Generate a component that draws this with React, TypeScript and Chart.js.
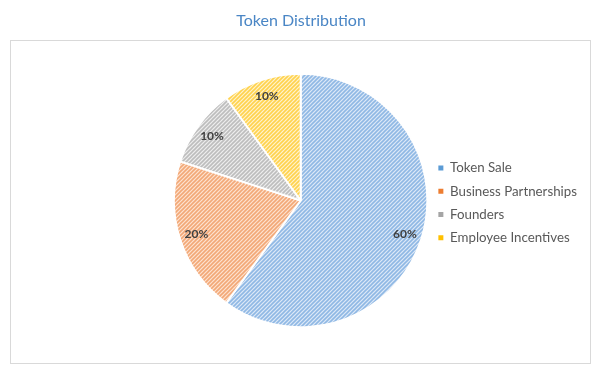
import React, { useEffect, useRef } from "react";
import { Chart, registerables } from "chart.js";

Chart.register(...registerables);

const labels = ["Token Sale", "Business Partnerships", "Founders", "Employee Incentives"];
const values = [60, 20, 10, 10];
const stripeColors = ["#8fb8e4", "#f2a877", "#bdbdbd", "#ffd24d"];
const baseColors = ["#dde9f7", "#fde2d0", "#eeeeee", "#fff3cc"];
const legendColors = ["#5b9bd5", "#ed7d31", "#a5a5a5", "#ffc000"];
const titleText = "Token Distribution";

function makePattern(stripe: string, base: string): CanvasPattern | string {
  const size = 4;
  const c = document.createElement("canvas");
  c.width = size;
  c.height = size;
  const ctx = c.getContext("2d");
  if (!ctx) return stripe;
  ctx.fillStyle = base;
  ctx.fillRect(0, 0, size, size);
  ctx.strokeStyle = stripe;
  ctx.lineWidth = 1.6;
  ctx.lineCap = "square";
  ctx.beginPath();
  ctx.moveTo(0, size);
  ctx.lineTo(size, 0);
  ctx.moveTo(-1, 1);
  ctx.lineTo(1, -1);
  ctx.moveTo(size - 1, size + 1);
  ctx.lineTo(size + 1, size - 1);
  ctx.stroke();
  const p = ctx.createPattern(c, "repeat");
  return p || stripe;
}

const framePlugin = {
  id: "frame",
  beforeDraw(chart: any) {
    const ctx = chart.ctx;
    ctx.save();
    ctx.fillStyle = "#ffffff";
    ctx.fillRect(0, 0, chart.width, chart.height);
    ctx.strokeStyle = "#d9d9d9";
    ctx.lineWidth = 1;
    ctx.strokeRect(10.5, 40.5, 580, 323);
    ctx.fillStyle = "#4a86c5";
    ctx.font = "16px Lato, 'Open Sans', sans-serif";
    ctx.textAlign = "center";
    ctx.textBaseline = "middle";
    ctx.fillText(titleText, 301, 21);
    ctx.restore();
  },
};

const pctLabelPlugin = {
  id: "pctLabels",
  afterDatasetsDraw(chart: any) {
    const ctx = chart.ctx;
    const meta = chart.getDatasetMeta(0);
    const data = chart.data.datasets[0].data as number[];
    const total = data.reduce((a, b) => a + b, 0);
    ctx.save();
    ctx.font = "bold 12px Lato, 'Open Sans', sans-serif";
    ctx.fillStyle = "#404040";
    ctx.textAlign = "center";
    ctx.textBaseline = "middle";
    meta.data.forEach((arc: any, i: number) => {
      const { x, y, startAngle, endAngle, outerRadius } = arc.getProps(
        ["x", "y", "startAngle", "endAngle", "outerRadius"],
        true
      );
      const mid = (startAngle + endAngle) / 2;
      const r = outerRadius * 0.865;
      const txt = Math.round((data[i] / total) * 100) + "%";
      ctx.fillText(txt, x + Math.cos(mid) * r, y + Math.sin(mid) * r);
    });
    ctx.restore();
  },
};

export default function App() {
  const ref = useRef<HTMLCanvasElement | null>(null);
  useEffect(() => {
    if (!ref.current) return;
    const patterns = stripeColors.map((s, i) => makePattern(s, baseColors[i]));
    const chart = new Chart(ref.current, {
      type: "pie",
      data: {
        labels,
        datasets: [
          {
            data: values,
            backgroundColor: patterns as any,
            borderColor: "#ffffff",
            borderWidth: 2,
          },
        ],
      },
      options: {
        animation: false,
        responsive: false,
        maintainAspectRatio: false,
        layout: { padding: { top: 72, bottom: 47, left: 173, right: 15 } },
        plugins: {
          title: { display: false },
          legend: {
            position: "right",
            align: "center",
            title: { display: true, text: " ", padding: 0, font: { size: 4 } },
            labels: {
              boxWidth: 5,
              boxHeight: 5,
              padding: 10,
              color: "#595959",
              font: { family: "Lato, 'Open Sans', sans-serif", size: 13.3 },
              generateLabels: (ch: any) =>
                ch.data.labels.map((t: string, i: number) => ({
                  text: t,
                  fillStyle: legendColors[i],
                  strokeStyle: legendColors[i],
                  lineWidth: 0,
                  hidden: false,
                  index: i,
                  fontColor: "#595959",
                })),
            },
          },
          tooltip: { enabled: false },
        },
      },
      plugins: [framePlugin, pctLabelPlugin],
    });
    return () => chart.destroy();
  }, []);
  return (
    <div style={{ position: "fixed", left: 0, top: 0, width: 602, height: 376, background: "#fff" }}>
      <canvas ref={ref} width={602} height={376} style={{ display: "block" }} />
    </div>
  );
}
